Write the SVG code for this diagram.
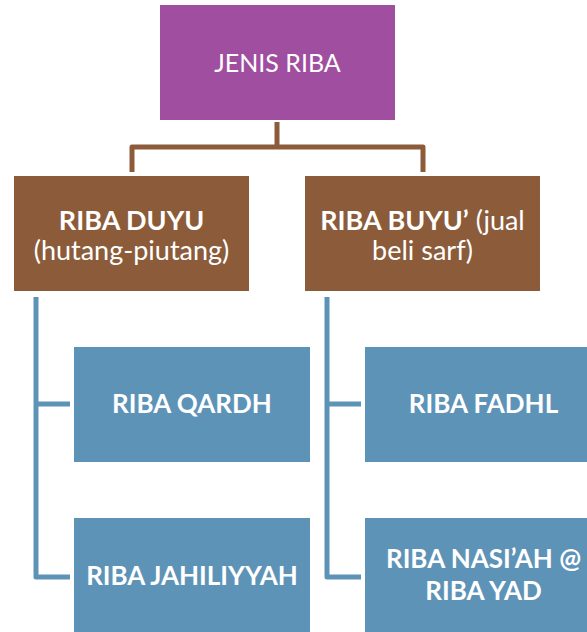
<svg xmlns="http://www.w3.org/2000/svg" width="587" height="632" viewBox="0 0 587 632">
<style>
.t{font-family:Lato,"Open Sans","Liberation Sans",sans-serif;fill:#fff;text-anchor:middle}
.b{font-weight:bold}
.c{fill:none;stroke-width:5;stroke-linejoin:round}
</style>
<rect width="587" height="632" fill="#fff"/>
<g id="connectors">
<path class="c" stroke="#8B5B3A" d="M277,122V147M132,172V147H423V172"/>
<path class="c" stroke="#5E93B8" d="M36,297V577H70M36,404H70"/>
<path class="c" stroke="#5E93B8" d="M327,297V577H361M327,404H361"/>
</g>
<g id="jenis-riba">
<rect x="160" y="5" width="235" height="115" fill="#A04EA0"/>
<text class="t" x="277.5" y="72" font-size="25">JENIS RIBA</text>
</g>
<g id="riba-duyu">
<rect x="14" y="176" width="235" height="115" fill="#8B5B3A"/>
<text class="t" x="131.5" y="230" font-size="27"><tspan class="b">RIBA DUYU</tspan><tspan x="131.5" dy="30">(hutang-piutang)</tspan></text>
</g>
<g id="riba-buyu">
<rect x="305" y="176" width="235" height="115" fill="#8B5B3A"/>
<text class="t" x="422.5" y="230" font-size="27"><tspan class="b">RIBA BUYU’</tspan> (jual<tspan x="422.5" dy="30">beli sarf)</tspan></text>
</g>
<g id="riba-qardh">
<rect x="74" y="347" width="236" height="115" fill="#5E93B8"/>
<text class="t b" x="192" y="413" font-size="26">RIBA QARDH</text>
</g>
<g id="riba-jahiliyyah">
<rect x="74" y="518" width="236" height="120" fill="#5E93B8"/>
<text class="t b" x="192" y="585" font-size="26">RIBA JAHILIYYAH</text>
</g>
<g id="riba-fadhl">
<rect x="365" y="347" width="236" height="115" fill="#5E93B8"/>
<text class="t b" x="483.5" y="413" font-size="26">RIBA FADHL</text>
</g>
<g id="riba-nasiah">
<rect x="365" y="518" width="236" height="120" fill="#5E93B8"/>
<text class="t b" x="483.5" y="568" font-size="26">RIBA NASI’AH @<tspan x="483.5" dy="32">RIBA YAD</tspan></text>
</g>
</svg>
